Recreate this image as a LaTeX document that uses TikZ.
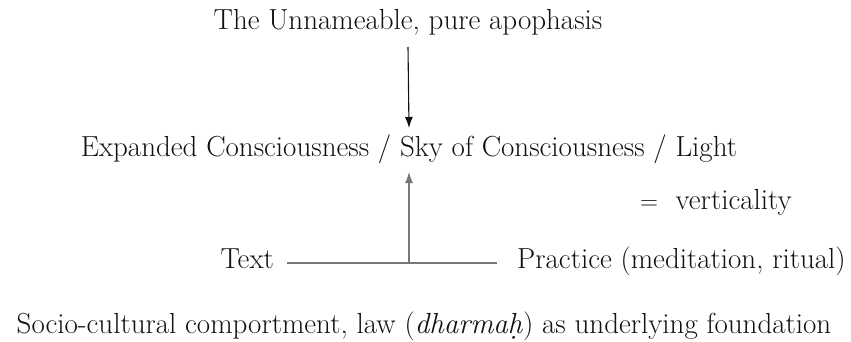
\documentclass[tikz,border=0pt]{standalone}
\usetikzlibrary{positioning,arrows.meta,calc}
\definecolor{ink}{RGB}{17,17,17}
\definecolor{rule}{RGB}{120,120,120}
\tikzset{
  lbl/.style={anchor=base, inner sep=0pt, text=ink, font=\fontsize{29}{34}\selectfont},
  darr/.style={-{Latex[length=11pt,width=8pt]}, line width=1.1pt, draw=ink},
  uarr/.style={-{Latex[length=11pt,width=8pt]}, line width=1.1pt, draw=rule},
  hline/.style={line width=1.1pt, draw=rule},
}
\begin{document}
\begin{tikzpicture}[x=1pt, y=-1pt]
  \useasboundingbox (0,0) rectangle (851,342);

  \node[lbl] (top) at (408,30) {The Unnameable, pure apophasis};
  \node[lbl] (sky) at (409,157) {Expanded Consciousness / Sky of Consciousness / Light};
  \node[lbl, anchor=base west] (vert) at (640,209) {$=$\ \ verticality};
  \node[lbl, anchor=base east] (text) at (274,268) {Text};
  \node[lbl, anchor=base west] (practice) at (517,268) {Practice (meditation, ritual)};
  \node[lbl] (base) at (424,333)
    {Socio-cultural comportment, law (\emph{dharma\d{h}}) as underlying foundation};

  % vertical axis
  \draw[darr] ($(top.base)+(0,17)$) -- ($(sky.base)+(0,-29)$);
  \coordinate (j) at ($(text.base east)+(0,-5)$);
  \draw[hline] ($(j)+(13,0)$) -- ($(practice.base west |- j)+(-20,0)$);
  \draw[uarr] (sky.base |- j) -- ($(sky.base)+(0,15)$);
\end{tikzpicture}
\end{document}
